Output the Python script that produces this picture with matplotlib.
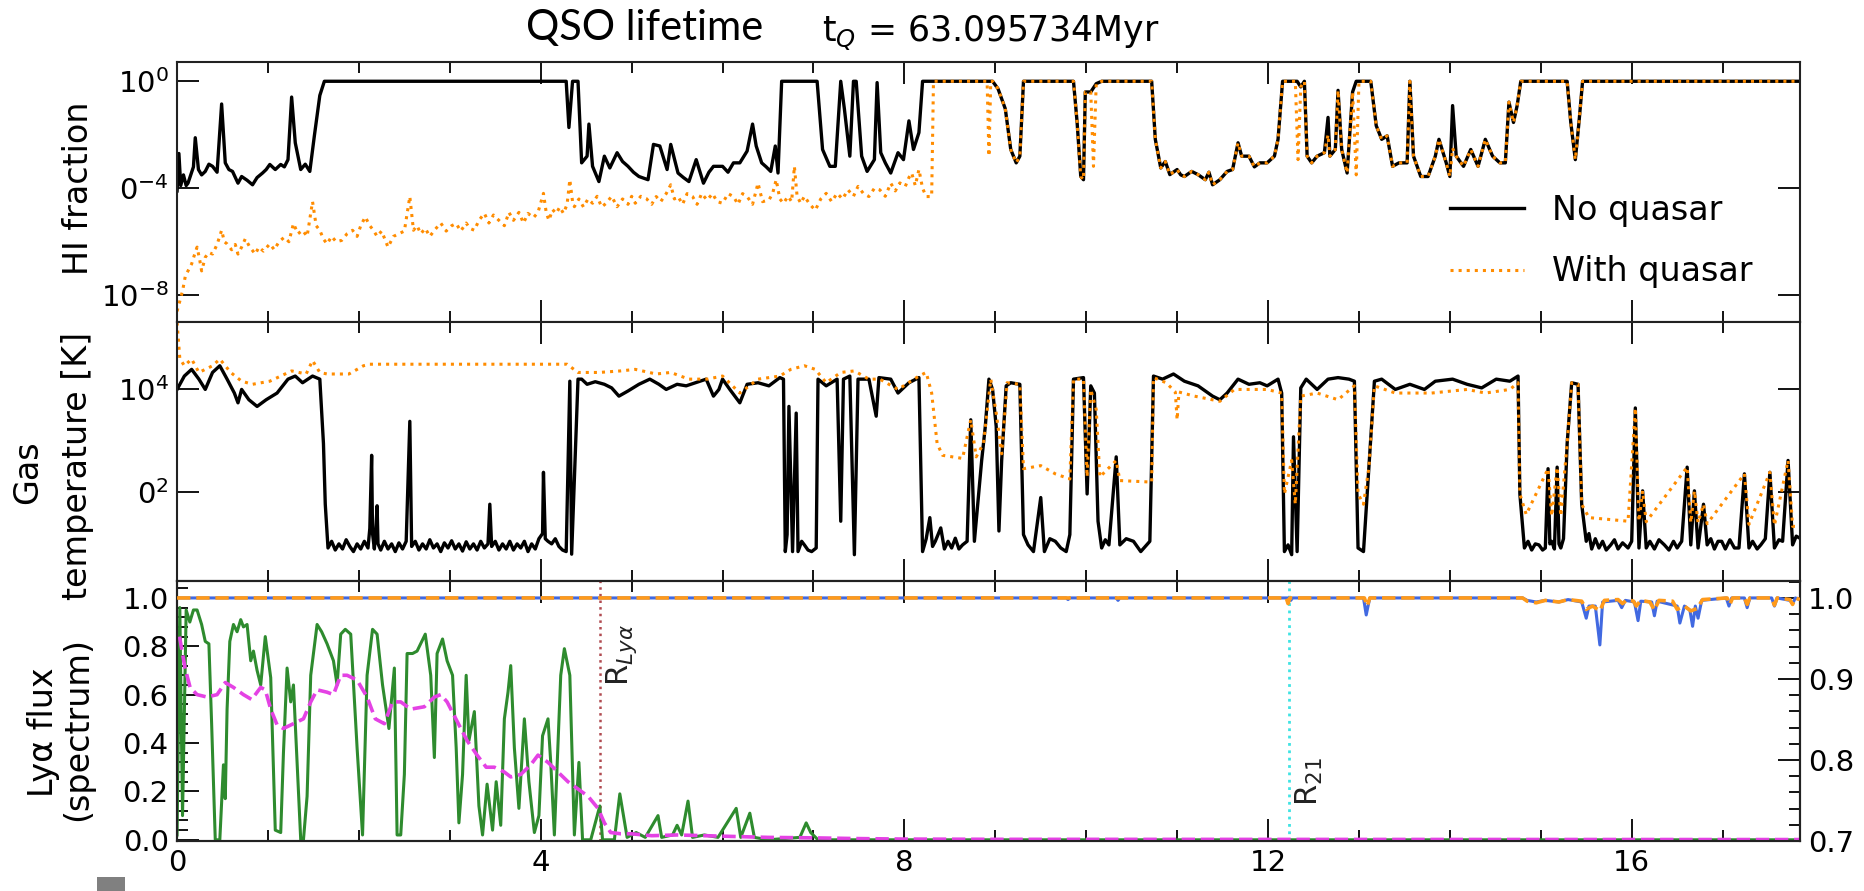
import numpy as np
import matplotlib
matplotlib.use("Agg")
import matplotlib.pyplot as plt
from matplotlib.ticker import MultipleLocator, NullLocator, FixedLocator
from matplotlib.patches import Rectangle

# HI fraction, log10 values
HI_NOQ_X = [0.0, 0.02, 0.04, 0.07, 0.1, 0.12, 0.15, 0.18, 0.2, 0.235, 0.27, 0.31, 0.35, 0.39, 0.44, 0.49,
            0.53, 0.57, 0.61, 0.67, 0.71, 0.77, 0.83, 0.88, 0.94, 0.98, 1.02, 1.08, 1.14, 1.18, 1.22, 1.26,
            1.3, 1.36, 1.41, 1.46, 1.51, 1.57, 1.62, 4.28, 4.31, 4.35, 4.41, 4.45, 4.51, 4.53,
            4.57, 4.64, 4.7, 4.76, 4.84, 4.9, 4.96, 5.02, 5.08, 5.18, 5.24, 5.31, 5.39, 5.43, 5.51, 5.57,
            5.63, 5.71, 5.79, 5.85, 5.9, 6.0, 6.06, 6.12, 6.19, 6.27, 6.33, 6.37, 6.43, 6.48, 6.53, 6.58,
            6.61, 6.65, 7.04, 7.1, 7.18, 7.24, 7.3, 7.34, 7.4, 7.44, 7.47, 7.53, 7.59, 7.67, 7.7, 7.74,
            7.79, 7.85, 7.93, 7.99, 8.05, 8.1, 8.16, 8.2, 8.91, 8.97, 9.03, 9.11, 9.17, 9.23, 9.27, 9.31,
            9.86, 9.9, 9.94, 9.97, 9.99, 10.05, 10.11, 10.17, 10.72, 10.76, 10.82, 10.87, 10.92, 11.0, 11.04,
            11.08, 11.16, 11.23, 11.31, 11.35, 11.39, 11.47, 11.55, 11.61, 11.67, 11.71, 11.79, 11.85, 11.91,
            11.99, 12.07, 12.11, 12.16, 12.32, 12.36, 12.4, 12.43, 12.48, 12.54, 12.62, 12.66, 12.68, 12.74,
            12.77, 12.81, 12.87, 12.93, 12.97, 13.13, 13.19, 13.25, 13.31, 13.37, 13.44, 13.53, 13.56, 13.6,
            13.68, 13.76, 13.84, 13.88, 13.96, 14.0, 14.03, 14.07, 14.15, 14.23, 14.31, 14.39, 14.47, 14.55,
            14.61, 14.65, 14.7, 14.74, 14.78, 15.29, 15.33, 15.38, 15.42, 15.46, 17.85]
HI_NOQ = [-4.1, -2.7, -3.9, -3.5, -3.9, -3.81, -3.5, -3.2, -2.11, -3.3, -3.5, -3.37, -3.1, -3.18, -3.4, -0.85,
          -3.05, -3.3, -3.37, -3.81, -3.56, -3.7, -3.87, -3.6, -3.43, -3.3, -3.11, -3.3, -3.11, -3.2, -2.93, -0.59,
          -2.3, -3.3, -3.1, -3.37, -2.04, -0.53, 0, 0, -1.73, 0, 0, -3.05, -2.8, -1.6,
          -3.18, -3.75, -2.8, -3.24, -2.67, -3.0, -3.18, -3.4, -3.56, -3.68, -2.36, -2.42, -3.3, -2.36, -3.43, -3.6,
          -3.75, -2.93, -3.81, -3.4, -3.18, -3.18, -3.4, -3.05, -3.05, -2.61, -1.6, -2.42, -3.05, -3.2, -3.37, -2.42,
          -3.43, 0, 0, -2.55, -3.18, -3.18, 0, -1.03, -2.8, 0, 0, -2.8, -3.37, -2.93, -0.05, -2.67,
          -3.05, -3.43, -2.67, -2.93, -1.48, -2.55, -1.92, 0, 0, 0, -0.28, -1.03, -2.55, -3.05, -2.8, 0,
          0, -1.54, -3.56, -3.68, -0.4, -0.4, -0.09, 0, 0, -2.17, -3.24, -3.0, -3.49, -3.3, -3.5,
          -3.56, -3.37, -3.49, -3.68, -3.4, -3.87, -3.68, -3.37, -3.3, -2.3, -2.8, -2.8, -3.2, -3.05,
          -3.05, -2.8, -2.17, 0, 0, -0.21, 0, -2.8, -3.05, -2.8, -2.67, -1.35, -2.8, -2.55,
          -0.34, -2.55, -3.43, -0.4, 0, 0, -1.66, -2.17, -2.04, -3.18, -3.05, -3.05, 0, -2.8,
          -3.56, -3.56, -2.8, -2.17, -3.05, -3.56, -0.91, -2.8, -3.18, -2.55, -3.18, -2.17, -2.8, -3.05,
          -3.05, -0.78, -1.54, -0.91, 0, 0, -1.54, -2.93, -1.54, 0, 0]

HI_Q_X = [0.0, 0.02, 0.06, 0.09, 0.12, 0.16, 0.19, 0.22, 0.25, 0.27, 0.31, 0.35, 0.39, 0.44, 0.49, 0.52,
          0.55, 0.6, 0.64, 0.67, 0.71, 0.75, 0.8, 0.86, 0.9, 0.95, 1.02, 1.07, 1.12, 1.18, 1.23, 1.28,
          1.33, 1.38, 1.43, 1.49, 1.53, 1.57, 1.61, 1.65, 1.7, 1.75, 1.81, 1.87, 1.93, 1.98, 2.02, 2.07,
          2.12, 2.16, 2.2, 2.25, 2.32, 2.38, 2.44, 2.5, 2.56, 2.6, 2.64, 2.68, 2.73, 2.78, 2.83, 2.9,
          2.96, 3.02, 3.07, 3.12, 3.18, 3.22, 3.27, 3.32, 3.38, 3.43, 3.48, 3.54, 3.6, 3.65, 3.7, 3.76,
          3.81, 3.86, 3.92, 3.97, 4.03, 4.06, 4.09, 4.13, 4.17, 4.21, 4.25, 4.29, 4.32, 4.35, 4.37, 4.42,
          4.47, 4.52, 4.57, 4.62, 4.67, 4.72, 4.78, 4.84, 4.9, 4.96, 5.0, 5.04, 5.1, 5.16, 5.22, 5.27,
          5.32, 5.38, 5.43, 5.47, 5.51, 5.56, 5.61, 5.67, 5.72, 5.77, 5.83, 5.89, 5.94, 6.0, 6.06, 6.12,
          6.17, 6.22, 6.27, 6.33, 6.39, 6.44, 6.51, 6.55, 6.59, 6.63, 6.67, 6.72, 6.76, 6.79, 6.82, 6.86,
          6.9, 6.96, 7.02, 7.08, 7.14, 7.2, 7.26, 7.32, 7.38, 7.44, 7.49, 7.55, 7.61, 7.67, 7.73, 7.79,
          7.85, 7.9, 7.95, 8.01, 8.05, 8.08, 8.12, 8.16, 8.2, 8.24, 8.3, 8.32,
          8.91, 8.93, 8.95, 8.97, 9.03, 9.11, 9.17, 9.23, 9.27, 9.31, 9.86, 9.9, 9.94, 9.97, 9.99, 10.05,
          10.08, 10.11, 10.17, 10.72, 10.76, 10.82, 10.87, 10.92, 11.0, 11.04, 11.08, 11.16, 11.23, 11.31,
          11.35, 11.39, 11.47, 11.55, 11.61, 11.67, 11.71, 11.79, 11.85, 11.91, 11.99, 12.07, 12.11, 12.16,
          12.3, 12.33, 12.36, 12.4, 12.43, 12.48, 12.54, 12.62, 12.66, 12.68, 12.74, 12.77, 12.81, 12.87,
          12.93, 12.97, 13.0, 13.13, 13.19, 13.25, 13.31, 13.37, 13.44, 13.53, 13.56, 13.6, 13.68, 13.76,
          13.84, 13.88, 13.96, 14.0, 14.03, 14.07, 14.15, 14.23, 14.31, 14.39, 14.47, 14.55, 14.61, 14.65,
          14.7, 14.74, 14.78, 15.29, 15.33, 15.38, 15.42, 15.46, 17.85]
HI_Q = [-8.6, -8.35, -7.84, -7.3, -7.09, -6.83, -6.5, -6.2, -6.7, -7.09, -6.58, -6.4, -6.46, -6.1, -5.57, -6.0,
        -6.08, -6.3, -6.1, -6.46, -6.2, -5.89, -6.2, -6.46, -6.2, -6.35, -6.08, -6.3, -6.0, -5.83, -6.0, -5.32,
        -5.7, -5.57, -5.8, -4.5, -5.4, -5.57, -5.9, -6.08, -5.8, -6.0, -5.95, -5.7, -5.57, -5.8, -5.4, -5.07,
        -5.4, -5.57, -5.8, -5.6, -6.2, -5.8, -5.7, -5.6, -4.31, -5.57, -5.4, -5.7, -5.5, -5.8, -5.57, -5.3,
        -5.6, -5.4, -5.32, -5.6, -5.3, -5.5, -5.57, -5.2, -4.94, -5.3, -5.0, -5.2, -5.4, -4.9, -5.2, -4.9,
        -5.3, -4.94, -5.1, -4.9, -4.19, -4.9, -5.2, -4.8, -4.94, -4.7, -4.94, -4.6, -3.68, -4.5, -4.69, -4.4,
        -4.7, -4.4, -4.56, -4.3, -4.7, -4.56, -4.3, -4.69, -4.4, -4.6, -4.3, -4.56, -4.3, -4.38, -4.6, -4.31,
        -4.5, -4.2, -3.87, -4.4, -4.31, -4.6, -4.2, -4.31, -4.6, -4.2, -4.44, -4.2, -4.5, -4.56, -4.2, -4.31,
        -4.6, -4.2, -4.31, -4.6, -3.81, -4.5, -4.44, -4.2, -3.68, -4.4, -4.56, -4.3, -4.5, -3.18, -4.3, -4.56,
        -4.3, -4.6, -4.82, -4.4, -4.19, -4.5, -4.19, -4.4, -4.06, -4.3, -3.93, -4.2, -4.31, -4.0, -4.06, -4.3,
        -3.81, -4.1, -3.8, -3.93, -3.6, -3.43, -3.9, -3.3, -4.0, -4.31, -4.31, 0,
        0, -2.8, 0, 0, -0.28, -1.03, -2.55, -3.05, -2.8, 0, 0, -1.54, -3.56, -3.68, -0.4, -0.4,
        -3.18, -0.09, 0, 0, -2.17, -3.24, -3.0, -3.49, -3.3, -3.5, -3.56, -3.37, -3.49, -3.68,
        -3.4, -3.87, -3.68, -3.37, -3.3, -2.3, -2.8, -2.8, -3.2, -3.05, -3.05, -2.8, -2.17, 0,
        0, -2.93, -0.21, 0, -2.8, -3.05, -2.8, -2.67, -2.0, -2.8, -2.55, -0.34, -2.55, -3.43,
        -0.4, -3.5, 0, 0, -1.66, -2.17, -2.04, -3.18, -3.05, -3.05, 0, -2.8, -3.56, -3.56,
        -2.8, -2.17, -3.05, -3.56, -2.5, -2.8, -3.18, -2.55, -3.18, -2.17, -2.8, -3.05, -3.05, -0.78,
        -1.54, -0.91, 0, 0, -1.54, -2.93, -1.54, 0, 0]

# gas temperature, log10 K
T_NOQ_X = [0.0, 0.08, 0.16, 0.24, 0.31, 0.39, 0.47, 0.55, 0.63, 0.67, 0.71, 0.79, 0.88, 0.98, 1.1, 1.22,
           1.3, 1.38, 1.49, 1.57, 1.61, 1.63,
           1.66, 1.7, 1.74, 1.78, 1.82, 1.86, 1.9, 1.94, 1.98, 2.02, 2.06, 2.1, 2.12, 2.14, 2.15, 2.17,
           2.19, 2.2, 2.21, 2.24, 2.28, 2.32, 2.36, 2.4, 2.44, 2.48, 2.52, 2.56, 2.58, 2.62, 2.66, 2.7,
           2.74, 2.78, 2.82, 2.86, 2.9, 2.94, 2.98, 3.02, 3.06, 3.1, 3.14, 3.18, 3.22, 3.26, 3.3, 3.34,
           3.38, 3.42, 3.44, 3.46, 3.5, 3.54, 3.58, 3.62, 3.66, 3.7, 3.74, 3.78, 3.82, 3.86, 3.9, 3.94,
           3.98, 4.02, 4.03, 4.05, 4.08, 4.12, 4.16, 4.2, 4.24, 4.28,
           4.32, 4.34, 4.41, 4.45, 4.51, 4.6, 4.7,
           4.78, 4.86, 4.96, 5.08, 5.2, 5.3, 5.38, 5.5, 5.6, 5.7, 5.82, 5.9, 5.96,
           6.0, 6.08, 6.19, 6.27, 6.39, 6.51, 6.63, 6.67, 6.69, 6.71, 6.73, 6.77, 6.81, 6.83, 6.87, 6.9, 6.94,
           6.98, 7.03, 7.05, 7.14, 7.26, 7.3, 7.33, 7.4, 7.45, 7.49, 7.61, 7.69, 7.72, 7.85, 7.93, 8.05, 8.16,
           8.2, 8.24, 8.28, 8.31, 8.34, 8.4, 8.44, 8.48, 8.52, 8.56, 8.6, 8.64, 8.69, 8.73, 8.77, 8.85, 8.89,
           8.93, 8.97, 9.01, 9.04, 9.07, 9.12, 9.17, 9.27, 9.31, 9.36, 9.42, 9.5, 9.54, 9.6, 9.66, 9.72, 9.78,
           9.82, 9.86, 9.97, 10.01, 10.05, 10.09, 10.13, 10.17, 10.21, 10.25, 10.33, 10.37, 10.44, 10.52,
           10.6, 10.7, 10.74, 10.84, 10.96, 11.08, 11.23,
           11.39, 11.47, 11.55, 11.67, 11.79, 11.91, 11.99, 12.11, 12.15, 12.18, 12.22, 12.26, 12.28, 12.32,
           12.36, 12.42, 12.54, 12.66, 12.77, 12.89, 12.95, 12.99, 13.05, 13.11, 13.17, 13.25, 13.4, 13.56,
           13.72, 13.84, 14.03, 14.19, 14.35, 14.51, 14.66, 14.75, 14.77,
           14.82, 14.86, 14.9, 14.94, 14.98, 15.02, 15.05, 15.08, 15.1, 15.12, 15.15, 15.18, 15.2, 15.22, 15.25,
           15.29, 15.34, 15.41, 15.45, 15.5, 15.53, 15.56, 15.6, 15.64, 15.68, 15.72, 15.77, 15.81, 15.85,
           15.9, 15.96, 16.0, 16.04, 16.08, 16.12, 16.16, 16.2, 16.25, 16.3, 16.36, 16.41, 16.46, 16.5, 16.55,
           16.61, 16.65, 16.69, 16.73, 16.79, 16.83, 16.87, 16.91, 16.95, 16.99, 17.03, 17.08, 17.13, 17.18,
           17.24, 17.29, 17.33, 17.38, 17.42, 17.47, 17.52, 17.57, 17.62, 17.66, 17.72, 17.77, 17.81, 17.85]
T_NOQ = [4.0, 4.26, 4.39, 4.2, 4.0, 4.33, 4.46, 4.2, 3.93, 3.74, 4.0, 3.8, 3.67, 3.8, 3.93, 4.2,
         4.26, 4.13, 4.26, 4.2, 2.95, 1.77,
         0.92, 1.05, 0.88, 1.0, 0.9, 1.08, 0.95, 0.85, 1.0, 0.9, 1.05, 0.92, 1.3, 2.72, 1.2, 0.9,
         1.4, 1.74, 1.0, 0.88, 1.05, 0.9, 1.0, 0.85, 1.02, 0.9, 1.05, 3.38, 0.95, 1.05, 0.88, 1.0,
         0.9, 1.08, 0.92, 1.0, 0.85, 1.02, 0.92, 1.06, 0.9, 1.0, 0.86, 1.04, 0.9, 1.0, 0.88, 1.05,
         0.92, 1.0, 1.77, 0.95, 1.05, 0.88, 1.0, 0.9, 1.05, 0.88, 1.0, 0.92, 1.05, 0.85, 1.0, 0.9,
         1.1, 1.2, 2.39, 1.1, 1.05, 1.0, 1.1, 0.95, 0.88, 0.85,
         4.16, 0.8, 4.2, 4.2, 4.1, 4.15, 4.1,
         4.03, 3.87, 3.97, 4.1, 4.2, 4.1, 4.0, 4.1, 4.07, 4.13, 4.2, 3.87, 4.0,
         4.2, 4.0, 3.74, 4.1, 4.13, 4.07, 4.23, 4.2, 0.85, 1.18, 3.67, 0.85, 3.54, 0.85, 1.05, 0.98, 0.88,
         0.85, 0.92, 4.2, 4.07, 4.2, 1.44, 4.2, 4.26, 0.79, 4.2, 4.2, 3.48, 4.23, 4.2, 3.93, 4.13, 4.23,
         0.85, 1.1, 1.51, 0.95, 1.05, 1.31, 0.9, 1.05, 0.92, 1.11, 0.9, 0.98, 1.05, 3.41, 1.05, 2.62, 3.28,
         4.2, 4.0, 3.28, 1.25, 2.62, 4.07, 4.13, 4.1, 1.18, 0.98, 0.85, 1.9, 0.85, 1.1, 1.05, 0.92, 0.85,
         1.18, 4.2, 4.23, 1.97, 4.07, 3.93, 1.44, 0.92, 1.08, 0.98, 2.69, 0.98, 1.1, 1.05,
         0.85, 1.05, 4.26, 4.2, 4.3, 4.16, 4.07,
         3.87, 3.8, 3.93, 4.2, 4.1, 4.13, 4.07, 4.2, 3.93, 0.85, 0.98, 0.79, 3.08, 0.85,
         4.03, 4.2, 4.0, 4.2, 4.23, 4.2, 4.16, 0.92, 0.85, 2.49, 4.16, 4.2, 4.0, 4.1,
         4.0, 4.16, 4.2, 4.1, 4.03, 4.2, 4.16, 4.26, 1.97,
         0.92, 1.05, 0.88, 1.0, 0.98, 0.88, 0.92, 2.46, 1.0, 1.05, 0.9, 2.49, 1.0, 0.92, 1.1,
         2.95, 4.13, 4.1, 1.77, 1.05, 1.2, 0.9, 1.1, 0.92, 1.05, 0.88, 0.98, 1.08, 0.9,
         1.02, 0.92, 1.05, 3.64, 0.92, 2.03, 0.92, 1.05, 0.9, 1.08, 0.98, 0.88, 1.05, 0.92, 1.05,
         2.49, 0.98, 2.03, 0.92, 1.77, 0.98, 1.1, 0.9, 1.05, 1.05, 0.9, 1.08, 0.92, 0.92,
         2.36, 0.92, 1.05, 0.9, 0.98, 1.1, 2.39, 0.92, 1.08, 1.05, 2.62, 0.98, 1.15, 1.11]

T_Q_X = [0.0, 0.03, 0.08, 0.16, 0.24, 0.31, 0.39, 0.47, 0.59, 0.71, 0.83, 1.02, 1.26, 1.42, 1.49, 1.57,
         1.65, 1.89, 2.05, 2.12, 4.29, 4.41, 4.64, 4.88, 5.04, 5.27, 5.43, 5.63, 5.83,
         6.0, 6.19, 6.39, 6.63, 6.75, 6.9, 7.02, 7.14, 7.3, 7.45, 7.61, 7.73, 7.93, 8.16, 8.24, 8.3,
         8.36, 8.42, 8.64, 8.73, 8.79, 8.87, 8.95, 9.01, 9.07, 9.13, 9.27, 9.31, 9.5, 9.66, 9.82, 9.86,
         9.97, 10.01, 10.05, 10.11, 10.15, 10.33, 10.37, 10.72, 10.74, 10.88, 10.98, 11.0, 11.02, 11.19,
         11.47, 11.63, 11.79, 11.99, 12.15, 12.18, 12.26, 12.3, 12.36, 12.54, 12.77, 12.95, 12.99, 13.05,
         13.11, 13.17, 13.4, 13.8, 14.19, 14.39, 14.66, 14.75, 14.77, 14.84, 15.08, 15.12, 15.18, 15.22,
         15.29, 15.34, 15.41, 15.45, 15.53, 15.96, 16.04, 16.08, 16.12, 16.16, 16.61, 16.65, 16.69, 16.73,
         16.79, 16.83, 17.24, 17.29, 17.52, 17.57, 17.72, 17.77, 17.85]
T_Q = [5.3, 4.6, 4.46, 4.59, 4.33, 4.39, 4.46, 4.59, 4.33, 4.16, 4.1, 4.16, 4.36, 4.3, 4.56, 4.33,
       4.3, 4.3, 4.46, 4.49, 4.49, 4.33, 4.33, 4.36, 4.39, 4.3, 4.33, 4.2, 4.2,
       4.26, 3.93, 4.2, 4.26, 4.39, 4.46, 4.39, 4.13, 4.33, 4.36, 4.2, 4.2, 4.0, 4.26, 4.33, 3.93,
       2.95, 2.72, 2.66, 3.41, 2.69, 2.95, 4.2, 3.54, 2.75, 4.13, 4.1, 2.46, 2.52, 2.36, 2.26, 4.2,
       4.2, 2.3, 4.0, 3.61, 2.3, 2.62, 2.23, 2.2, 4.23, 4.13, 3.95, 3.41, 3.95, 3.87,
       3.77, 4.0, 4.0, 4.0, 3.93, 1.97, 2.62, 1.77, 3.87, 3.93, 3.8, 4.07, 1.97, 1.77,
       2.49, 4.07, 3.93, 3.93, 4.0, 3.93, 4.0, 4.13, 1.97, 1.57, 2.46, 1.54, 2.49, 1.54,
       2.95, 4.13, 4.1, 1.77, 1.51, 1.44, 3.64, 1.44, 2.03, 1.43, 2.49, 1.41, 2.03, 1.41,
       1.77, 1.39, 2.36, 1.38, 2.39, 1.36, 2.62, 1.34, 1.34]

# Lya flux (left axis)
FLUX_X = [0.0, 0.03, 0.06, 0.1, 0.14, 0.18, 0.22, 0.27, 0.31, 0.35, 0.38, 0.42, 0.47, 0.51, 0.53, 0.55,
          0.58, 0.62, 0.66, 0.7, 0.73, 0.77, 0.81, 0.84, 0.88, 0.92, 0.97, 1.03, 1.08, 1.14, 1.17, 1.21,
          1.25, 1.28, 1.32, 1.36, 1.39, 1.43, 1.47, 1.54, 1.59, 1.65, 1.72, 1.76, 1.8, 1.85, 1.91, 1.98,
          2.04, 2.09, 2.15, 2.2, 2.26, 2.33, 2.39, 2.42, 2.46, 2.5, 2.53, 2.59, 2.64, 2.73, 2.79, 2.83,
          2.86, 2.92, 2.97, 3.03, 3.07, 3.1, 3.14, 3.18, 3.21, 3.27, 3.32, 3.36, 3.41, 3.47, 3.51, 3.56,
          3.6, 3.64, 3.67, 3.71, 3.76, 3.82, 3.87, 3.93, 3.98, 4.02, 4.08, 4.11, 4.15, 4.22, 4.26, 4.32,
          4.37, 4.42, 4.46, 4.55, 4.65, 4.68, 4.81, 4.87, 4.95, 5.05, 5.15, 5.29, 5.33, 5.45, 5.5, 5.55,
          5.62, 5.67, 5.8, 5.95, 6.15, 6.2, 6.3, 6.35, 6.5, 6.85, 6.92, 6.97, 7.05, 17.85]
FLUX = [0.02, 0.96, 0.1, 0.95, 0.9, 0.95, 0.95, 0.89, 0.82, 0.81, 0.48, 0.0, 0.0, 0.31, 0.17, 0.54,
        0.82, 0.89, 0.86, 0.91, 0.88, 0.89, 0.74, 0.78, 0.7, 0.64, 0.84, 0.67, 0.04, 0.03, 0.36, 0.71,
        0.57, 0.64, 0.32, 0.0, 0.0, 0.18, 0.68, 0.89, 0.86, 0.81, 0.74, 0.64, 0.85, 0.87, 0.85, 0.38,
        0.02, 0.68, 0.87, 0.85, 0.64, 0.46, 0.71, 0.02, 0.02, 0.27, 0.77, 0.77, 0.78, 0.85, 0.68, 0.34,
        0.77, 0.83, 0.74, 0.68, 0.38, 0.07, 0.27, 0.68, 0.41, 0.53, 0.14, 0.02, 0.23, 0.04, 0.24, 0.06,
        0.5, 0.61, 0.72, 0.38, 0.13, 0.5, 0.24, 0.03, 0.1, 0.43, 0.5, 0.32, 0.02, 0.68, 0.79, 0.68,
        0.02, 0.32, 0.0, 0.0, 0.14, 0.0, 0.0, 0.19, 0.01, 0.03, 0.01, 0.1, 0.01, 0.02, 0.06, 0.02,
        0.16, 0.01, 0.02, 0.01, 0.13, 0.01, 0.11, 0.01, 0.0, 0.01, 0.07, 0.03, 0.0, 0.0]

SMOOTH_X = [0.026, 0.088, 0.143, 0.22, 0.33, 0.44, 0.53, 0.62, 0.73, 0.82, 0.92, 0.97, 1.03, 1.1, 1.17, 1.28,
            1.39, 1.47, 1.54, 1.65, 1.72, 1.8, 1.87, 1.98, 2.09, 2.18, 2.28, 2.37, 2.46, 2.57, 2.72, 2.83,
            2.9, 2.97, 3.08, 3.19, 3.3, 3.4, 3.49, 3.6, 3.67, 3.78, 3.89, 3.97, 4.08, 4.19, 4.3, 4.41,
            4.52, 4.63, 4.7, 4.77, 4.88, 4.99, 5.22, 5.5, 6.0, 6.5, 7.0, 7.5, 8.0, 9.0, 17.85]
SMOOTH = [0.84, 0.71, 0.63, 0.6, 0.59, 0.6, 0.65, 0.63, 0.6, 0.58, 0.63, 0.62, 0.54, 0.475, 0.46, 0.48,
          0.5, 0.57, 0.62, 0.61, 0.6, 0.68, 0.68, 0.66, 0.59, 0.5, 0.48, 0.57, 0.57, 0.54, 0.55, 0.59,
          0.6, 0.57, 0.49, 0.41, 0.35, 0.3, 0.3, 0.28, 0.26, 0.27, 0.31, 0.35, 0.32, 0.28, 0.24, 0.21,
          0.18, 0.13, 0.07, 0.03, 0.025, 0.025, 0.017, 0.02, 0.015, 0.01, 0.008, 0.005, 0.003, 0.002, 0.001]

# 21cm spectra (right axis)
S21_NOQ_X = [0.0, 9.78, 9.8, 9.82, 10.33, 10.35, 10.37, 12.23, 12.25, 12.27, 13.05, 13.08, 13.1, 13.12,
             14.8, 14.85, 14.95, 15.05, 15.2, 15.3, 15.45, 15.5, 15.53, 15.6, 15.65, 15.68, 15.85, 15.89,
             15.93, 16.03, 16.07, 16.1, 16.22, 16.25, 16.28, 16.5, 16.53, 16.58, 16.64, 16.67, 16.7, 16.73,
             16.77, 17.04, 17.07, 17.1, 17.24, 17.27, 17.3, 17.54, 17.57, 17.6, 17.74, 17.77, 17.8, 17.85]
S21_NOQ = [1.0, 1.0, 0.998, 1.0, 1.0, 0.997, 1.0, 1.0, 0.997, 1.0, 1.0, 0.979, 0.99, 1.0,
           1.0, 0.997, 0.995, 0.997, 0.995, 0.998, 0.995, 0.975, 0.99, 0.99, 0.942, 0.995, 0.997, 0.988,
           0.997, 0.995, 0.972, 0.996, 0.995, 0.978, 0.996, 0.99, 0.969, 0.99, 0.985, 0.965, 0.99, 0.975,
           0.997, 1.0, 0.99, 1.0, 1.0, 0.988, 1.0, 1.0, 0.99, 1.0, 0.997, 0.993, 1.0, 0.998]

S21_Q_X = [0.0, 12.2, 12.22, 12.24, 13.06, 13.09, 13.12, 14.8, 14.85, 14.95, 15.05, 15.2, 15.3, 15.45,
           15.5, 15.57, 15.65, 15.7, 15.85, 15.9, 15.95, 16.02, 16.05, 16.1, 16.2, 16.25, 16.3, 16.45,
           16.5, 16.58, 16.65, 16.72, 16.78, 17.05, 17.08, 17.11, 17.24, 17.27, 17.3, 17.54, 17.57, 17.6,
           17.74, 17.77, 17.8, 17.85]
S21_Q = [1.0, 1.0, 0.993, 1.0, 1.0, 0.99, 1.0, 1.0, 0.996, 0.994, 0.997, 0.995, 0.998, 0.996,
         0.986, 0.99, 0.984, 0.997, 0.998, 0.993, 0.998, 0.996, 0.99, 0.997, 0.995, 0.985, 0.997, 0.996,
         0.986, 0.99, 0.984, 0.987, 0.998, 1.0, 0.992, 1.0, 1.0, 0.992, 1.0, 1.0, 0.991, 1.0,
         0.998, 0.992, 1.0, 0.998]

R_LYA = 4.65
R_21 = 12.23
X_MAX = 17.85

BLACK = "#000000"
ORANGE = "#ff8c00"

fig = plt.figure(figsize=(18.64, 8.91), dpi=100)
ax1 = fig.add_axes([0.095, 0.6386, 0.8706, 0.2918])
ax2 = fig.add_axes([0.095, 0.3480, 0.8706, 0.2906], sharex=ax1)
ax3 = fig.add_axes([0.095, 0.0561, 0.8706, 0.2919], sharex=ax1)
ax3r = ax3.twinx()

# HI fraction
ax1.semilogy(HI_NOQ_X, 10 ** np.array(HI_NOQ), color=BLACK, lw=2.4, label="No quasar")
ax1.semilogy(HI_Q_X, 10 ** np.array(HI_Q), color=ORANGE, lw=2.2, ls=":", label="With quasar")
ax1.set_ylim(1e-9, 10 ** 0.72)
ax1.yaxis.set_major_locator(FixedLocator([1e0, 1e-4, 1e-8]))
ax1.yaxis.set_minor_locator(NullLocator())
ax1.set_yticklabels(["$10^{0}$", "$0^{-4}$", "$10^{-8}$"])
leg = ax1.legend(loc="center left", bbox_to_anchor=(0.778, 0.7295), bbox_transform=fig.transFigure,
                 frameon=False, fontsize=24, handlelength=2.2, handletextpad=0.85,
                 labelspacing=0.85, borderpad=0, borderaxespad=0)

# temperature
ax2.semilogy(T_NOQ_X, 10 ** np.array(T_NOQ), color=BLACK, lw=2.4)
ax2.semilogy(T_Q_X, 10 ** np.array(T_Q), color=ORANGE, lw=2.2, ls=":")
ax2.set_ylim(10 ** 0.28, 10 ** 5.31)
ax2.yaxis.set_major_locator(FixedLocator([1e4, 1e2]))
ax2.yaxis.set_minor_locator(NullLocator())
ax2.set_yticklabels(["$10^{4}$", "$0^{2}$"])

# spectra
ax3r.plot(S21_NOQ_X, S21_NOQ, color="#4169e1", lw=2.2, zorder=2)
ax3r.plot(S21_Q_X, S21_Q, color="#ff9a1a", lw=2.6, ls="--", zorder=3)
ax3r.set_ylim(0.7, 1.021)
ax3r.yaxis.set_major_locator(MultipleLocator(0.1))
ax3r.yaxis.set_minor_locator(MultipleLocator(0.02))

ax3.plot(FLUX_X, FLUX, color="#2e8b2e", lw=2.2, zorder=3)
ax3.plot(SMOOTH_X, SMOOTH, color="#e442e4", lw=2.6, ls="--", zorder=4)
ax3.axvline(R_LYA, color="#b04a50", ls=":", lw=1.8)
ax3.axvline(R_21, color="#3fe3e3", ls=":", lw=2.0)
ax3.text(R_LYA + 0.05, 0.89, r"R$_{Ly\alpha}$", rotation=90, ha="left", va="top", fontsize=22, color="#222222")
ax3.text(R_21 + 0.05, 0.14, r"R$_{21}$", rotation=90, ha="left", va="bottom", fontsize=22, color="#222222")
ax3.set_ylim(-0.005, 1.07)
ax3.yaxis.set_major_locator(MultipleLocator(0.2))
ax3.yaxis.set_minor_locator(MultipleLocator(0.04))
ax3.set_xlim(0, X_MAX)
ax3.xaxis.set_major_locator(MultipleLocator(4))
ax3.xaxis.set_minor_locator(MultipleLocator(1))

for ax in (ax1, ax2, ax3):
    ax.tick_params(which="both", direction="in", top=True, labelsize=21, width=1.3, pad=6)
    ax.tick_params(which="major", length=16)
    ax.tick_params(which="minor", length=8)
for ax in (ax1, ax2):
    ax.tick_params(right=True, labelbottom=False)
ax3.tick_params(right=False)
ax3r.tick_params(which="both", direction="in", labelsize=21, width=1.3, pad=6)
ax3r.tick_params(which="major", length=16)
ax3r.tick_params(which="minor", length=8)

for ax in (ax1, ax2, ax3, ax3r):
    for sp in ax.spines.values():
        sp.set_linewidth(1.5)
        sp.set_color("#222222")

# axis labels
fig.text(79 / 1864, 1 - 188 / 891, "HI fraction", rotation=90, ha="center", va="center", fontsize=24)
fig.text(28 / 1864, 1 - 472 / 891, "Gas", rotation=90, ha="center", va="center", fontsize=24)
fig.text(77 / 1864, 1 - 466 / 891, "temperature [K]", rotation=90, ha="center", va="center", fontsize=24)
fig.text(43 / 1864, 1 - 732 / 891, "Ly\u03b1 flux", rotation=90, ha="center", va="center", fontsize=24)
fig.text(78 / 1864, 1 - 729 / 891, "(spectrum)", rotation=90, ha="center", va="center", fontsize=24)

# titles
fig.text(645 / 1864, 1 - 28 / 891, "QSO lifetime", ha="center", va="center", fontsize=30,
         family=["Lato", "DejaVu Sans"])
fig.text(822 / 1864, 1 - 33 / 891, r"t$_Q$ = 63.095734Myr", ha="left", va="center", fontsize=25)

fig.patches.append(Rectangle((97 / 1864, 0), 28 / 1864, 14 / 891, transform=fig.transFigure,
                             facecolor="#808080", edgecolor="none"))

fig.savefig("out.png", dpi=100)
